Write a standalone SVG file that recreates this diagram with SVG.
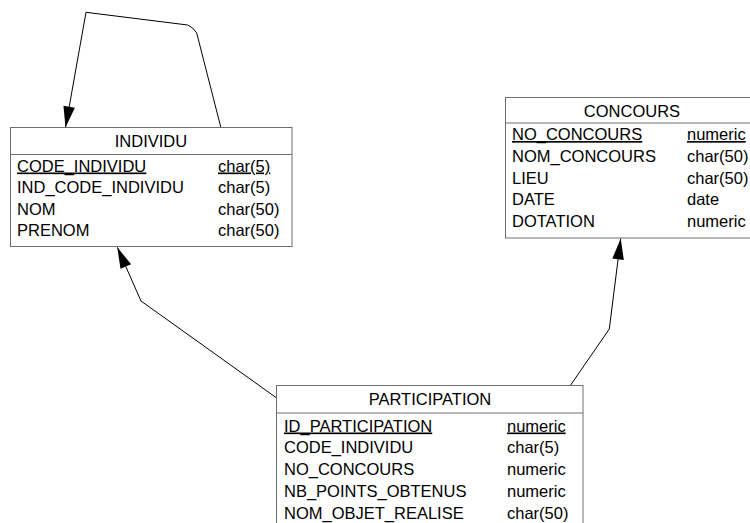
<svg xmlns="http://www.w3.org/2000/svg" width="750" height="523" viewBox="0 0 750 523">
<style>
.box{fill:#fff;stroke:#6e6e6e;stroke-width:1}
.sep{stroke:#6e6e6e;stroke-width:1}
text{font-family:"Liberation Sans",Arial,sans-serif;font-size:16.5px;fill:#000}
.t{text-anchor:middle}
.u{text-decoration:underline}
.c{fill:none;stroke:#000;stroke-width:1}
</style>
<defs>
<marker id="ah" markerUnits="userSpaceOnUse" viewBox="-22 -7 23 14" markerWidth="23" markerHeight="14" refX="0" refY="0" orient="auto">
<path d="M0,0 L-21,-5.8 L-21,5.8 Z" fill="#000"/>
</marker>
</defs>
<rect width="750" height="523" fill="#fff"/>
<g id="connectors">
<path class="c" d="M221,128 L196.7,33 Q193,27 187.7,25 L86,12.3 L65.5,127.5" marker-end="url(#ah)"/>
<path class="c" d="M276.7,398 L141,301 L117.3,247.3" marker-end="url(#ah)"/>
<path class="c" d="M570,386 L609.3,329 L620.7,238.5" marker-end="url(#ah)"/>
</g>
<g id="INDIVIDU">
<rect class="box" x="10.5" y="127.5" width="281.5" height="119"/>
<line class="sep" x1="10.5" y1="154.5" x2="292" y2="154.5"/>
<text class="t" x="151" y="146.5">INDIVIDU</text>
<text class="u" x="17" y="171.5">CODE_INDIVIDU</text><text class="u" x="218" y="171.5">char(5)</text>
<text x="17" y="193">IND_CODE_INDIVIDU</text><text x="218" y="193">char(5)</text>
<text x="17" y="214.5">NOM</text><text x="218" y="214.5">char(50)</text>
<text x="17" y="236">PRENOM</text><text x="218" y="236">char(50)</text>
</g>
<g id="CONCOURS">
<rect class="box" x="505.5" y="97.5" width="260" height="140.5"/>
<line class="sep" x1="505.5" y1="123" x2="765.5" y2="123"/>
<text class="t" x="632" y="116.5">CONCOURS</text>
<text class="u" x="512" y="140">NO_CONCOURS</text><text class="u" x="687" y="140">numeric</text>
<text x="512" y="161.8">NOM_CONCOURS</text><text x="687" y="161.8">char(50)</text>
<text x="512" y="183.6">LIEU</text><text x="687" y="183.6">char(50)</text>
<text x="512" y="205.4">DATE</text><text x="687" y="205.4">date</text>
<text x="512" y="227.2">DOTATION</text><text x="687" y="227.2">numeric</text>
</g>
<g id="PARTICIPATION">
<rect class="box" x="276.5" y="385.5" width="306.5" height="150"/>
<line class="sep" x1="276.5" y1="413" x2="583" y2="413"/>
<text class="t" x="430" y="405">PARTICIPATION</text>
<text class="u" x="284" y="431.5">ID_PARTICIPATION</text><text class="u" x="507" y="431.5">numeric</text>
<text x="284" y="453">CODE_INDIVIDU</text><text x="507" y="453">char(5)</text>
<text x="284" y="475">NO_CONCOURS</text><text x="507" y="475">numeric</text>
<text x="284" y="497">NB_POINTS_OBTENUS</text><text x="507" y="497">numeric</text>
<text x="284" y="519">NOM_OBJET_REALISE</text><text x="507" y="519">char(50)</text>
</g>
</svg>
